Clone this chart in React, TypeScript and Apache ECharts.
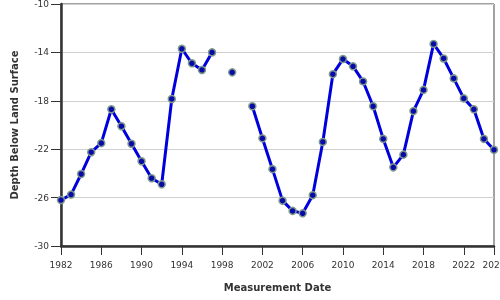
import React, { useEffect, useRef } from "react";
import * as echarts from "echarts";

const years: number[] = [
  1982, 1983, 1984, 1985, 1986, 1987, 1988, 1989, 1990, 1991, 1992, 1993,
  1994, 1995, 1996, 1997, 1998, 1999, 2000, 2001, 2002, 2003, 2004, 2005,
  2006, 2007, 2008, 2009, 2010, 2011, 2012, 2013, 2014, 2015, 2016, 2017,
  2018, 2019, 2020, 2021, 2022, 2023, 2024, 2025,
];

const depths: (number | null)[] = [
  -26.2, -25.75, -24.05, -22.25, -21.5, -18.7, -20.1, -21.55, -23.0, -24.4,
  -24.9, -17.85, -13.7, -14.9, -15.45, -14.0, null, -15.65, null, -18.45,
  -21.1, -23.65, -26.25, -27.1, -27.3, -25.8, -21.4, -15.8, -14.55, -15.15,
  -16.4, -18.45, -21.15, -23.5, -22.45, -18.85, -17.1, -13.3, -14.5, -16.15,
  -17.8, -18.7, -21.15, -22.05,
];

const xTicks: number[] = [1982, 1986, 1990, 1994, 1998, 2002, 2006, 2010, 2014, 2018, 2022, 2025];
const yTicks: number[] = [-30, -26, -22, -18, -14, -10];

export default function App() {
  const ref = useRef<HTMLDivElement>(null);

  useEffect(() => {
    if (!ref.current) return;
    const chart = echarts.init(ref.current, undefined, { renderer: "svg" });
    const font = "DejaVu Sans";
    chart.setOption({
      animation: false,
      grid: {
        left: 61,
        right: 6,
        top: 4,
        bottom: 54,
        show: true,
        borderColor: "#444",
        borderWidth: 1,
        backgroundColor: "transparent",
        containLabel: false,
        outerBoundsMode: "none",
      },
      xAxis: {
        type: "value",
        min: 1982,
        max: 2025,
        name: "Measurement Date",
        nameLocation: "middle",
        nameGap: 36,
        nameTextStyle: { fontFamily: font, fontSize: 10, fontWeight: "bold", color: "#333" },
        axisLine: { show: true, onZero: false, lineStyle: { color: "#333", width: 2.5 } },
        axisTick: { show: true, length: 9, customValues: xTicks, lineStyle: { color: "#333" } },
        axisLabel: {
          customValues: xTicks,
          fontFamily: font,
          fontSize: 9,
          color: "#333",
          margin: 14,
          hideOverlap: false,
          formatter: (v: number) => String(v),
        },
        splitLine: { show: false },
      },
      yAxis: {
        type: "value",
        min: -30,
        max: -10,
        name: "Depth Below Land Surface",
        nameLocation: "middle",
        nameGap: 42,
        nameTextStyle: { fontFamily: font, fontSize: 10, fontWeight: "bold", color: "#333" },
        axisLine: { show: true, onZero: false, lineStyle: { color: "#333", width: 2.5 } },
        axisTick: { show: true, length: 10, customValues: yTicks, lineStyle: { color: "#333" } },
        axisLabel: {
          customValues: yTicks,
          fontFamily: font,
          fontSize: 9,
          color: "#333",
          margin: 12,
        },
        splitLine: { show: true, lineStyle: { color: "#d0d0d0", width: 1 } },
      },
      series: [
        {
          type: "line",
          data: years.map((y, i) => [y, depths[i]]),
          connectNulls: false,
          symbol: "circle",
          symbolSize: 7,
          showSymbol: true,
          lineStyle: { color: "#0000dd", width: 3 },
          itemStyle: { color: "#0a0aa8", borderColor: "#7e9a8a", borderWidth: 1.5 },
          z: 3,
        },
      ],
    });
    return () => chart.dispose();
  }, []);

  return (
    <div
      ref={ref}
      style={{ position: "fixed", left: 0, top: 0, width: 500, height: 300 }}
    />
  );
}
